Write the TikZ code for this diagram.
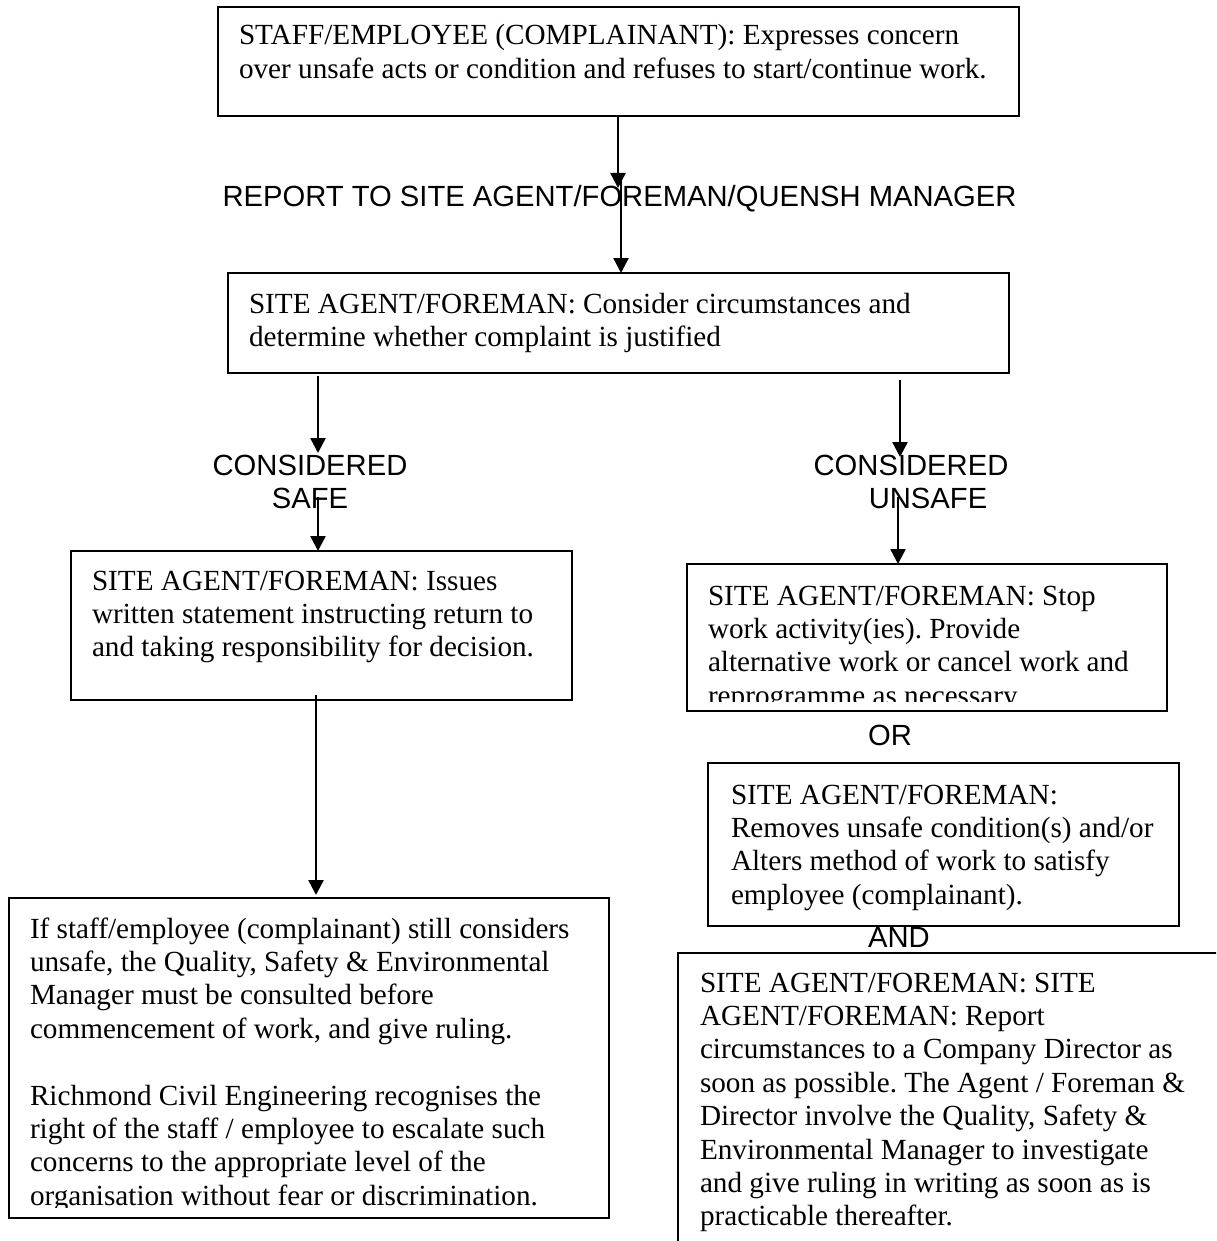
\documentclass[tikz,border=0pt]{standalone}
\usepackage{fontspec}
\setmainfont{Liberation Serif}
\setsansfont{Liberation Sans}
\usetikzlibrary{arrows.meta,calc}
\frenchspacing
\newcommand{\myTopRule}{\rule{0pt}{25pt}}
\tikzset{
  box/.style={draw, line width=2pt, inner sep=0pt, outer sep=0pt},
  txt/.style={anchor=north west, inner sep=0pt, outer sep=0pt, align=left,
    font=\fontsize{29.2pt}{33.4pt}\selectfont},
  lbl/.style={anchor=north, inner sep=0pt, outer sep=0pt, align=center,
    font=\sffamily\fontsize{29.2pt}{33pt}\selectfont},
  arr/.style={line width=2.5pt, -{Triangle[length=15pt,width=15pt]}},
}
\begin{document}
\begin{tikzpicture}[x=1pt,y=-1pt]
\useasboundingbox (0,0) rectangle (1216,1241);
\clip (0,0) rectangle (1216,1241);
\fill[white] (0,0) rectangle (1216,1241);

% boxes
\node[box, minimum width=801pt, minimum height=109pt] (A) at (618.5,61.5) {};
\node[box, minimum width=781pt, minimum height=100pt] (B) at (618.5,323) {};
\node[box, minimum width=501pt, minimum height=149pt] (C) at (321.5,625.5) {};
\node[box, minimum width=600pt, minimum height=320pt] (D) at (309,1058) {};
\node[box, minimum width=480pt, minimum height=147pt] (E) at (927,637.5) {};
\node[box, minimum width=471pt, minimum height=163pt] (F) at (943.5,844.5) {};
\node[box, minimum width=562pt, minimum height=312pt] (G) at (959,1109) {};

% box texts
\node[txt] (At) at (239,20) {\myTopRule STAFF/EMPLOYEE (COMPLAINANT): Expresses concern\\
over unsafe acts or condition and refuses to start/continue work.};
\node[txt] (Bt) at (249,288) {\myTopRule SITE AGENT/FOREMAN: Consider circumstances and\\
determine whether complaint is justified};
\node[txt] (Ct) at (92,565) {\myTopRule SITE AGENT/FOREMAN: Issues\\
written statement instructing return to\\
and taking responsibility for decision.};
\begin{scope}
\clip (0,0) rectangle (1216,1207);
\node[txt] (Dt) at (30,913) {\myTopRule If staff/employee (complainant) still considers\\
unsafe, the Quality, Safety \& Environmental\\
Manager must be consulted before\\
commencement of work, and give ruling.\\[33.4pt]
Richmond Civil Engineering recognises the\\
right of the staff / employee to escalate such\\
concerns to the appropriate level of the\\
organisation without fear or discrimination.};
\end{scope}
\begin{scope}
\clip (687,564) rectangle (1167,701);
\node[txt] (Et) at (708,580) {\myTopRule SITE AGENT/FOREMAN: Stop\\
work activity(ies). Provide\\
alternative work or cancel work and\\
reprogramme as necessary.};
\end{scope}
\node[txt] (Ft) at (731,779) {\myTopRule SITE AGENT/FOREMAN:\\
Removes unsafe condition(s) and/or\\
Alters method of work to satisfy\\
employee (complainant).};
\node[txt] (Gt) at (700,967) {\myTopRule SITE AGENT/FOREMAN: SITE\\
AGENT/FOREMAN: Report\\
circumstances to a Company Director as\\
soon as possible. The Agent / Foreman \&\\
Director involve the Quality, Safety \&\\
Environmental Manager to investigate\\
and give ruling in writing as soon as is\\
practicable thereafter.};

% labels
\node[lbl] (L1) at (619.5,182) {\myTopRule REPORT TO SITE AGENT/FOREMAN/QUENSH MANAGER};
\node[lbl] (L2) at (310,450.5) {\myTopRule CONSIDERED\\SAFE};
\node[lbl] (L3) at (911,450.5) {\myTopRule CONSIDERED\\\hspace*{34pt}UNSAFE};
\node[lbl] (L4) at (890,720) {\myTopRule OR};
\node[lbl] (L5) at (899,922) {\myTopRule AND};

% connectors
\coordinate (t1) at (618,188);
\coordinate (s2) at (621,177);
\draw[arr] (A.south -| t1) -- (t1);
\draw[arr] (s2) -- (s2 |- B.north);

\coordinate (t3) at (318,453);
\coordinate (s4) at (318,497);
\draw[arr, shorten <=3pt] (B.south -| t3) -- (t3);
\draw[arr] (s4) -- (s4 |- C.north);

\coordinate (t5) at (900,457);
\coordinate (s6) at (898,497);
\draw[arr, shorten <=7pt] (B.south -| t5) -- (t5);
\draw[arr] (s6) -- (s6 |- E.north);

\coordinate (t7) at (316,895);
\draw[arr, shorten <=-5pt] (C.south -| t7) -- (t7);
\end{tikzpicture}
\end{document}
